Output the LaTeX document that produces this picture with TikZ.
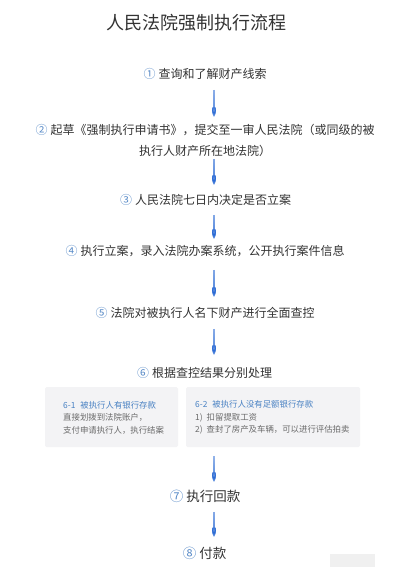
\documentclass[tikz,border=0pt]{standalone}
\usepackage{fontspec}
\newfontfamily\cjk{Noto Sans CJK SC}
\usetikzlibrary{arrows.meta,fadings}
\definecolor{txt}{HTML}{333333}
\definecolor{num}{HTML}{5A8CC8}
\definecolor{arrowblue}{HTML}{1F62D2}
\definecolor{boxfill}{HTML}{F3F3F5}
\definecolor{boxtitle}{HTML}{4A82C3}
\definecolor{boxtext}{HTML}{6A6A6A}
\tikzfading[name=arrowfade, top color=transparent!65, bottom color=transparent!0]
\newcommand\cnum[1]{\textcolor{num}{#1}\hspace{3pt}}
\begin{document}
\begin{tikzpicture}[x=1pt,y=-1pt,
  stepnode/.style={font=\cjk\fontsize{12}{21}\selectfont, text=txt, inner sep=0pt, align=center},
  bignode/.style={font=\cjk\fontsize{13.5}{16}\selectfont, text=txt, inner sep=0pt},
  titlenode/.style={font=\cjk\fontsize{18}{22}\selectfont, text=txt, inner sep=0pt},
  conn/.style 2 args={draw=arrowblue, line width=1.8pt, -{Triangle[width=8.5pt,length=9.5pt]}, shorten <=#1, shorten >=#2, path fading=arrowfade},
  boxstyle/.style={fill=boxfill, rounded corners=1.5pt, inner sep=0pt, minimum height=60pt, minimum width=#1},
  boxtextnode/.style={font=\cjk\fontsize{8.4}{12.5}\selectfont, text=boxtext, inner sep=0pt, align=left, anchor=west}
]
\useasboundingbox (0,0) rectangle (402,567);
\fill[white] (0,0) rectangle (402,567);
\coordinate (ax) at (214,0);

\node[titlenode] (title) at (196.5,23) {人民法院强制执行流程};

\node[stepnode] (s1) at (205,74) {\cnum{①}查询和了解财产线索};
\node[stepnode] (s2) at (205,140.5) {\cnum{②}起草《强制执行申请书》，提交至一审人民法院（或同级的被\\执行人财产所在地法院）};
\node[stepnode] (s3) at (205.5,200) {\cnum{③}人民法院七日内决定是否立案};
\node[stepnode] (s4) at (205,251) {\cnum{④}执行立案，录入法院办案系统，公开执行案件信息};
\node[stepnode] (s5) at (205,313) {\cnum{⑤}法院对被执行人名下财产进行全面查控};
\node[stepnode] (s6) at (204.5,373) {\cnum{⑥}根据查控结果分别处理};

\node[boxstyle=133pt] (b1) at (111.5,417) {};
\node[boxstyle=174pt] (b2) at (273,417) {};
\node[boxtextnode] (t1) at (63,417.5) {\textcolor{boxtitle}{6-1\hspace{5pt}被执行人有银行存款}\\直接划拨到法院账户，\\支付申请执行人，执行结案};
\node[boxtextnode] (t2) at (195,417.5) {\textcolor{boxtitle}{6-2\hspace{5pt}被执行人没有足额银行存款}\\1)\hspace{4pt}扣留提取工资\\2)\hspace{4pt}查封了房产及车辆，可以进行评估拍卖};

\node[bignode] (s7) at (205,496) {\cnum{⑦}执行回款};
\node[bignode] (s8) at (204.5,553) {\cnum{⑧}付款};

\draw[conn={16pt}{23.5pt}] (s1.center -| ax) -- (s2.center -| ax);
\draw[conn={18.5pt}{15pt}] (s2.center -| ax) -- (s3.center -| ax);
\draw[conn={15pt}{12pt}] (s3.center -| ax) -- (s4.center -| ax);
\draw[conn={19pt}{16pt}] (s4.center -| ax) -- (s5.center -| ax);
\draw[conn={16pt}{18pt}] (s5.center -| ax) -- (s6.center -| ax);
\draw[conn={9pt}{14pt}] (b2.south -| ax) -- (s7.center -| ax);
\draw[conn={16pt}{16pt}] (s7.center -| ax) -- (s8.center -| ax);

\fill[black!6] (330,554) rectangle (375,567);
\end{tikzpicture}
\end{document}
